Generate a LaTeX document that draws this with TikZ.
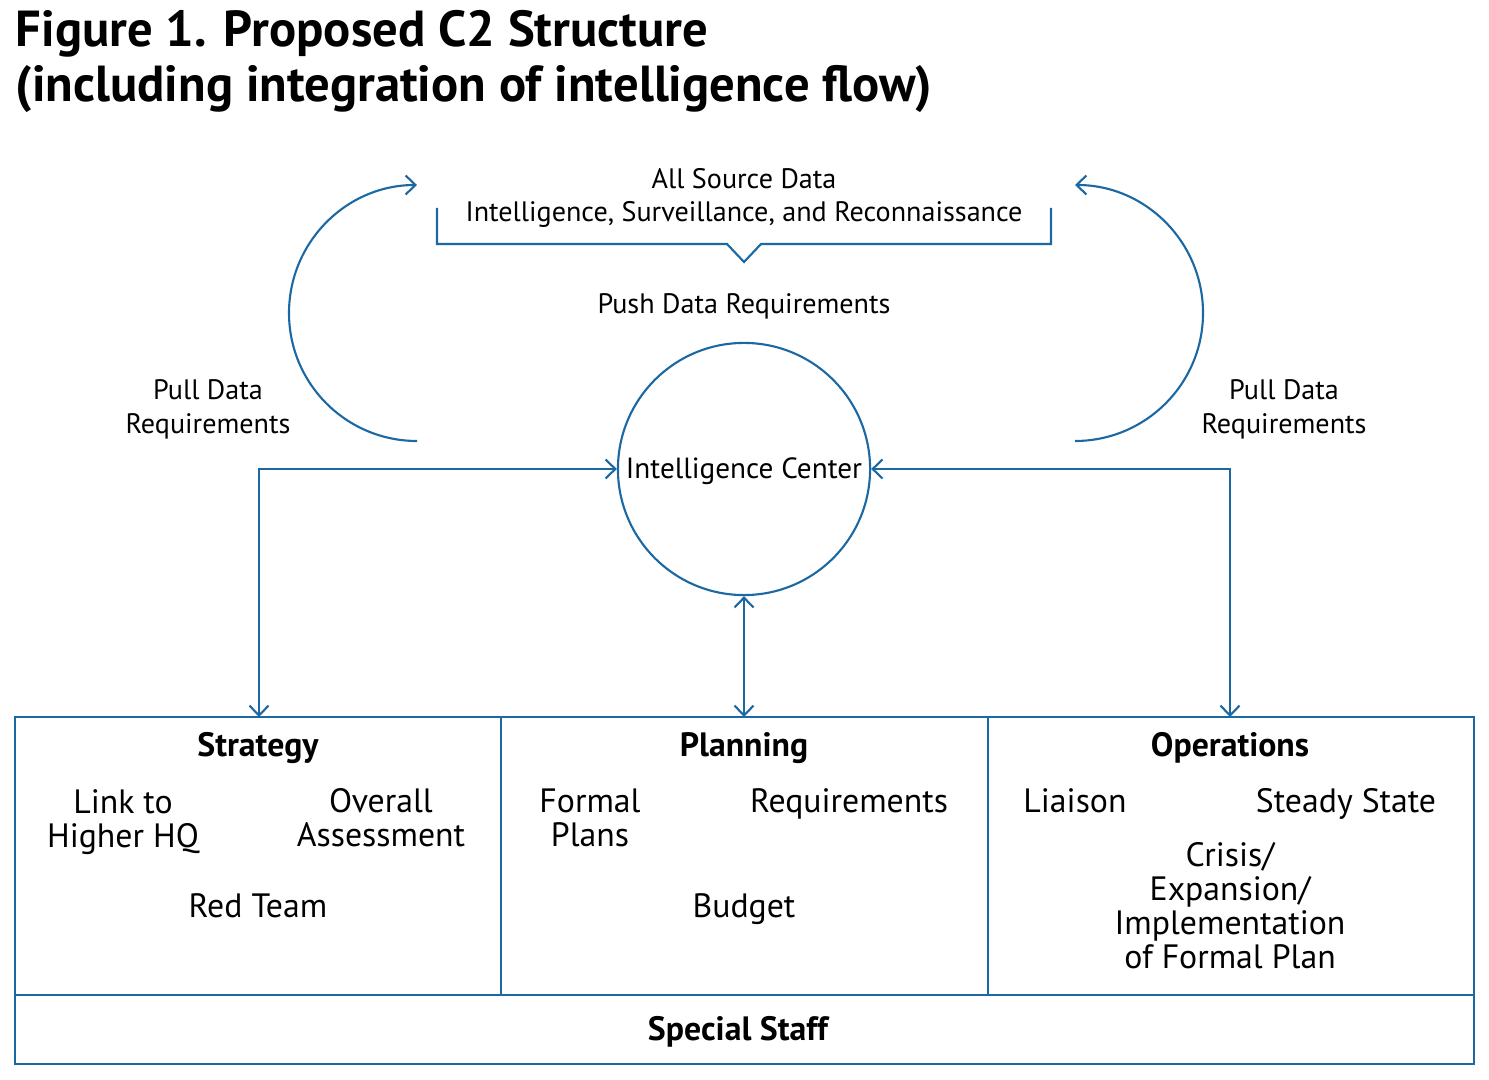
\documentclass[tikz,border=0pt]{standalone}
\usepackage{fontspec}
\setmainfont{PT Sans}
\usepackage{xcolor}
\usetikzlibrary{positioning, arrows.meta}
\definecolor{c2blue}{RGB}{28,104,162}

\begin{document}
\begin{tikzpicture}[x=0.01cm, y=-0.01cm,
  >={Straight Barb[length=2.8pt, width=5.4pt]},
  flow/.style={draw=c2blue, line width=0.6pt},
  item/.style={font=\fontsize{9.6}{9.7}\selectfont, align=center, inner sep=0pt},
  small/.style={font=\fontsize{8}{9.6}\selectfont, align=center, inner sep=0pt},
  head/.style={font=\fontsize{9.6}{9.7}\selectfont\bfseries, inner sep=0pt}]

\useasboundingbox (0,0) rectangle (1489,1080);

% title
\node[anchor=base west, inner sep=0pt, font=\fontsize{14.4}{16}\selectfont\bfseries] (title1) at (15,47) {Figure 1. Proposed C2 Structure};
\node[anchor=base west, inner sep=0pt, font=\fontsize{14.4}{16}\selectfont\bfseries] (title2) at (15,102) {(including integration of intelligence flow)};

% all source bracket
\node[small] (allsrc) at (744,198) {All Source Data\\Intelligence, Surveillance, and Reconnaissance};
\draw[flow] (437,208) -- (437,244) -- (727,244) -- (744,262) -- (761,244) -- (1051,244) -- (1051,208);
\node[small] (push) at (744,306) {Push Data Requirements};

% intelligence center
\node[circle, draw=c2blue, line width=0.6pt, minimum size=2.52cm, inner sep=0pt] (intel) at (744,469) {};
\node[small, font=\fontsize{8.3}{9.6}\selectfont] (intelname) at (744,471) {Intelligence Center};

% pull loops
\draw[flow, ->] (417,441) arc[start angle=90, end angle=270, radius=128];
\draw[flow, ->] (1075,441) arc[start angle=90, end angle=-90, radius=128];
\node[small] (pullL) at (208,409) {Pull Data\\Requirements};
\node[small] (pullR) at (1284,409) {Pull Data\\Requirements};

% staff boxes
\draw[flow] (15,717) rectangle (1474,1064);
\draw[flow] (15,995) -- (1474,995);
\draw[flow] (501,717) -- (501,995);
\draw[flow] (988,717) -- (988,995);

\coordinate (stratTop) at (259,717);
\coordinate (planTop) at (744,717);
\coordinate (opsTop) at (1230,717);

\draw[flow, <->] (stratTop) |- (intel.west);
\draw[flow, <->] (opsTop) |- (intel.east);
\draw[flow, <->] (intel.south) -- (planTop);

% strategy
\node[head] (strat) at (258,748) {Strategy};
\node[item] (link) at (123,822) {Link to\\Higher HQ};
\node[item] (assess) at (381,818) {Overall\\Assessment};
\node[item] (red) at (258,906) {Red Team};

% planning
\node[head] (plan) at (744,748) {Planning};
\node[item] (formal) at (590,818) {Formal\\Plans};
\node[item] (req) at (849,804) {Requirements};
\node[item] (budget) at (744,909) {Budget};

% operations
\node[head] (ops) at (1230,748) {Operations};
\node[item] (liaison) at (1075,801) {Liaison};
\node[item] (steady) at (1346,804) {Steady State};
\node[item] (crisis) at (1230,906) {Crisis/\\Expansion/\\Implementation\\of Formal Plan};

\node[head] (special) at (738,1032) {Special Staff};

\end{tikzpicture}
\end{document}
